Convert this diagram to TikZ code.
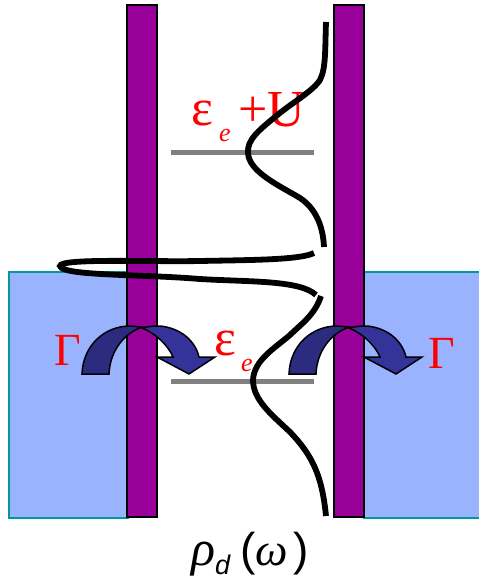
\documentclass[tikz,border=0pt]{standalone}
\usepackage{fontspec}
\setmainfont{Liberation Serif}
\newfontfamily\sansf{Liberation Sans}
\definecolor{lead}{HTML}{99B3FF}
\definecolor{leadedge}{HTML}{009999}
\definecolor{barrier}{HTML}{990099}
\definecolor{arcl}{HTML}{2B2B80}
\definecolor{arcr}{HTML}{333399}
\definecolor{lvl}{HTML}{808080}
\tikzset{
  leadbox/.style={fill=lead,draw=leadedge,line width=1.2pt},
  barbox/.style={fill=barrier,draw=black,line width=1.3pt},
  level/.style={draw=lvl,line width=5pt},
  dos/.style={draw=black,line width=5.8pt},
  arrowshape/.style={draw=black,line width=1.5pt,line join=miter},
  redtext/.style={text=red,inner sep=0pt,font=\fontsize{46}{46}\selectfont},
  epstext/.style={text=red,inner sep=0pt,font=\fontsize{52}{52}\selectfont},
  subtext/.style={text=red,inner sep=0pt,font=\fontsize{26}{26}\selectfont\itshape},
}
\begin{document}
\begin{tikzpicture}[x=1pt,y=-1pt]
\useasboundingbox (0,0) rectangle (479,582);
\fill[white] (0,0) rectangle (479,582);
% leads
\draw[leadbox] (9,272) rectangle (128,518);
\draw[leadbox] (364,272) -- (481,272) -- (481,518) -- (364,518) -- cycle;
% barriers
\draw[barbox] (127,5) rectangle (157,517);
\draw[barbox] (334,5) rectangle (364,517);
% levels
\draw[level] (171,152.5) -- (314,152.5);
\draw[level] (171,381.5) -- (314,381.5);
% labels
\node[epstext,anchor=base west] (eu) at (191,125) {ε};
\node[subtext,anchor=base west] (eus) at (219,141) {e};
\node[redtext,anchor=base west,font=\fontsize{52}{52}\selectfont] (plus) at (238,126) {+U};
\node[epstext,anchor=base west] (e0) at (214,355) {ε};
\node[subtext,anchor=base west] (e0s) at (241,371) {e};
\node[redtext,anchor=base west] (gl) at (54,365) {Γ};
\node[redtext,anchor=base west] (gr) at (428,368) {Γ};
\node[inner sep=0pt,anchor=base west] (rho) at (191,565) {\fontsize{50}{50}\selectfont\itshape ρ\raisebox{-9pt}{\fontsize{27}{27}\selectfont\sansf\itshape d}\hspace{10pt}\normalfont\sansf\fontsize{46}{46}\selectfont (\itshape\rmfamily ω\normalfont\sansf\hspace{5pt})};
% spectral curve
\draw[dos] (326,22) .. controls (325,50) and (326,68) .. (320,80)
  .. controls (312,92) and (290,104) .. (275,117)
  .. controls (258,131) and (247,140) .. (248,153)
  .. controls (249,172) and (280,186) .. (300,198)
  .. controls (315,208) and (323,225) .. (324,247);
\draw[dos] (314,253) .. controls (300,260) and (250,260) .. (200,261)
  .. controls (150,262) and (60,258) .. (60,266)
  .. controls (62,276) and (140,274) .. (200,279)
  .. controls (250,282) and (300,280) .. (316,295);
\draw[dos] (321,296) .. controls (315,315) and (300,325) .. (290,335)
  .. controls (275,348) and (254,360) .. (253,380)
  .. controls (253,400) and (272,415) .. (290,432)
  .. controls (312,455) and (322,475) .. (326,516);
% tunnelling arrows
\foreach \dx in {0,207}{
  \begin{scope}[xshift=\dx pt]
  \draw[arrowshape,fill=arcl] (82,374) .. controls (83,345) and (105,326) .. (130,326)
    -- (142,327) .. controls (125,333) and (110,350) .. (109,374) -- cycle;
  \draw[arrowshape,fill=arcr] (142,328) .. controls (150,326) and (155,326) .. (160,326)
    .. controls (180,328) and (195,340) .. (199,357) -- (215,357) -- (189,374) -- (157,357)
    -- (173,357) .. controls (168,345) and (155,333) .. (142,328) -- cycle;
  \end{scope}
}
\end{tikzpicture}
\end{document}
